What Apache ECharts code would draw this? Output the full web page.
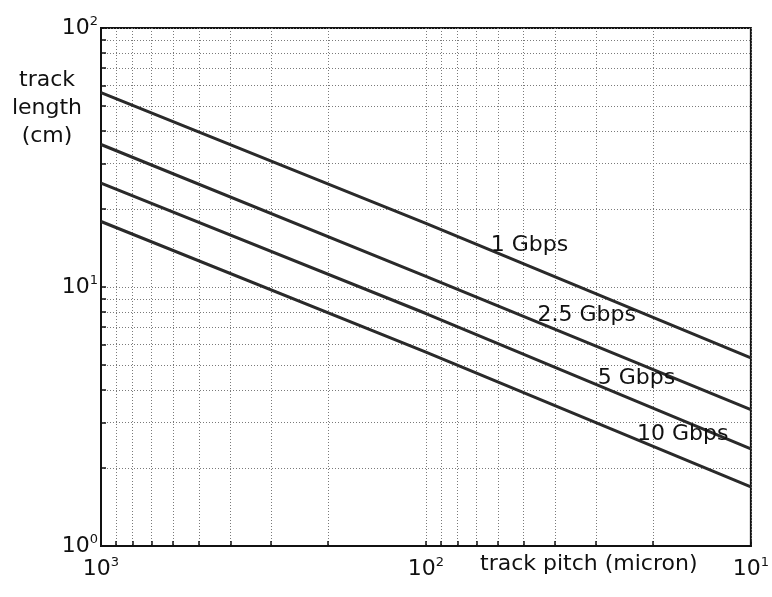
<!DOCTYPE html>
<html>
<head>
<meta charset="utf-8">
<script src="https://cdn.jsdelivr.net/npm/echarts@6/dist/echarts.min.js"></script>
<style>
  html, body { margin: 0; padding: 0; background: #fff; }
  #main { width: 772px; height: 597px; }
</style>
</head>
<body>
<div id="main"></div>
<script>
// track pitch (micron), read at left edge, middle and right edge
var pitch = [1000, 100, 10];
// track length (cm) for each data rate
var len1G = [56.3, 17.6, 5.33];
var len2G5 = [35.5, 11.0, 3.36];
var len5G = [25.2, 7.9, 2.37];
var len10G = [17.9, 5.6, 1.69];

var rateNames = ['1 Gbps', '2.5 Gbps', '5 Gbps', '10 Gbps'];
// where each rate label sits (pitch, length)
var labelPitch = [48, 32, 22.5, 16.2];
var labelLen = [14.5, 7.8, 4.45, 2.7];

var xTicks = [1000, 100, 10];
var yTicks = [1, 10, 100];
var xMinor = [900, 800, 700, 600, 500, 400, 300, 200, 90, 80, 70, 60, 50, 40, 30, 20];
var yMinor = [2, 3, 4, 5, 6, 7, 8, 9, 20, 30, 40, 50, 60, 70, 80, 90];

var FONT = 'DejaVu Sans';

function pairs(xs, ys) {
    return xs.map(function (x, i) { return [x, ys[i]]; });
}
function powLabel(v) {
    return '{b|10}{s|' + Math.round(Math.log10(v)) + '}';
}
var richTick = {
    b: { fontFamily: FONT, fontSize: 22, color: '#111', lineHeight: 26 },
    s: { fontFamily: FONT, fontSize: 13, color: '#111', verticalAlign: 'top', lineHeight: 13 }
};
var gridLine = { show: true, lineStyle: { color: '#7a7a7a', width: 1, type: [1, 2] } };

var lineSeries = [len1G, len2G5, len5G, len10G].map(function (ys, i) {
    return {
        name: rateNames[i],
        type: 'line',
        data: pairs(pitch, ys),
        symbol: 'none',
        lineStyle: { color: '#2a2a2a', width: 3 },
        z: 3
    };
});

var myChart = echarts.init(document.getElementById('main'));
myChart.setOption({
    animation: false,
    backgroundColor: '#fff',
    grid: {
        left: 101, right: 14, top: 28, bottom: 51,
        show: true, borderColor: '#111', borderWidth: 2
    },
    xAxis: {
        type: 'log',
        logBase: 10,
        min: 10,
        max: 1000,
        inverse: true,
        axisLine: { show: true, lineStyle: { color: '#111', width: 2 } },
        axisTick: {
            show: true, inside: true, length: 5,
            customValues: xTicks.concat(xMinor),
            lineStyle: { color: '#111', width: 1.5 }
        },
        axisLabel: {
            customValues: xTicks,
            formatter: powLabel,
            rich: richTick,
            margin: 10
        },
        splitLine: gridLine
    },
    yAxis: {
        type: 'log',
        logBase: 10,
        min: 1,
        max: 100,
        axisLine: { show: true, lineStyle: { color: '#111', width: 2 } },
        axisTick: {
            show: true, inside: true, length: 5,
            customValues: yTicks.concat(yMinor),
            lineStyle: { color: '#111', width: 1.5 }
        },
        axisLabel: {
            customValues: yTicks,
            formatter: powLabel,
            rich: richTick,
            margin: 3
        },
        splitLine: gridLine
    },
    graphic: [
        {
            type: 'text', x: 480, y: 553,
            style: { text: 'track pitch (micron)', font: '22px "DejaVu Sans"', fill: '#111' }
        },
        {
            type: 'text', x: 47, y: 66,
            style: {
                text: 'track\nlength\n(cm)', font: '22px "DejaVu Sans"', fill: '#111',
                align: 'center', verticalAlign: 'top', lineHeight: 28
            }
        }
    ],
    series: lineSeries.concat([{
        type: 'scatter',
        data: pairs(labelPitch, labelLen).map(function (p, i) {
            return { value: p, name: rateNames[i] };
        }),
        symbolSize: 0.1,
        itemStyle: { color: '#111' },
        emphasis: { disabled: true },
        label: {
            show: true,
            position: [0, 0],
            align: 'center',
            verticalAlign: 'middle',
            formatter: '{b}',
            fontFamily: FONT,
            fontSize: 22,
            color: '#111',
            textBorderWidth: 0,
            opacity: 1
        },
        z: 5
    }])
});
</script>
</body>
</html>
